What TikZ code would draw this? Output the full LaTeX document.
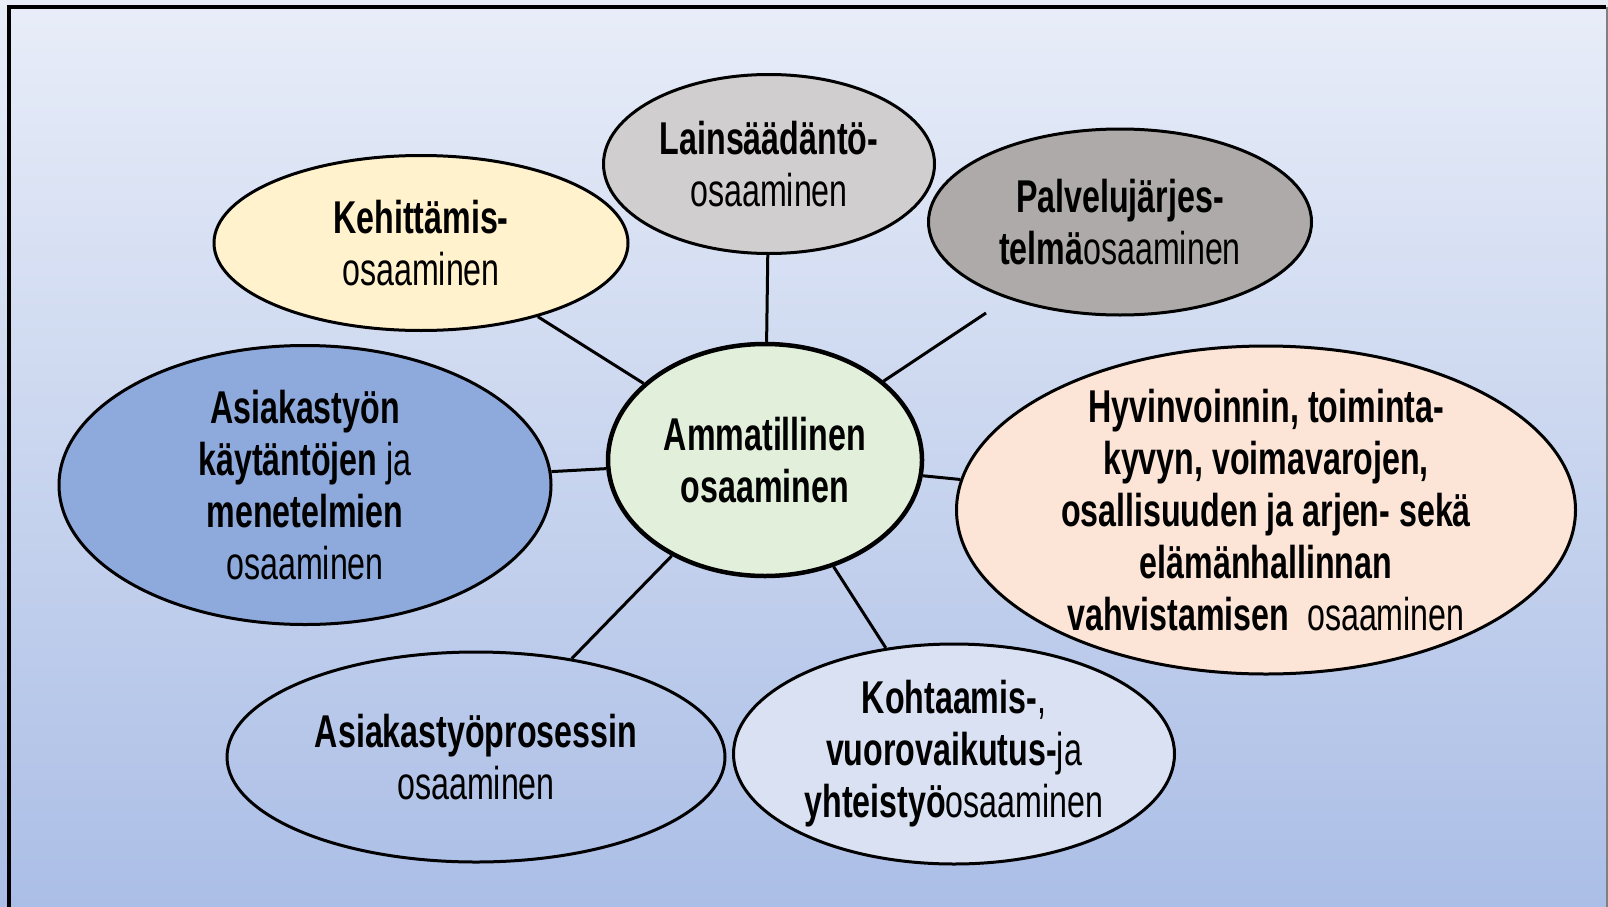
\documentclass[tikz,border=0pt]{standalone}
\usepackage{fontspec}
\setmainfont{Liberation Sans}[FakeStretch=0.7]
\usetikzlibrary{shapes.geometric}
\definecolor{taustaYla}{RGB}{232,237,248}
\definecolor{taustaAla}{RGB}{171,190,230}
\definecolor{lakiHarmaa}{RGB}{208,206,206}
\definecolor{kehKeltainen}{RGB}{255,242,204}
\definecolor{palvHarmaa}{RGB}{174,170,170}
\definecolor{asiakasSininen}{RGB}{142,169,219}
\definecolor{ammVihrea}{RGB}{226,239,218}
\definecolor{hyvPersikka}{RGB}{252,228,214}
\definecolor{kohtSininen}{RGB}{217,225,242}
\begin{document}
\begin{tikzpicture}[x=1pt, y=-1pt,
  osa/.style={ellipse, draw=black, line width=3pt, inner xsep=0pt, inner ysep=-12pt,
    align=center, text=black, font=\fontsize{46}{52}\selectfont},
  viiva/.style={line width=3pt}]
\useasboundingbox (0,0) rectangle (1608,907);
% Tausta ja kehys
\shade[top color=taustaYla, bottom color=taustaAla] (0,0) rectangle (1608,907);
\draw[line width=4pt] (9,907) -- (9,7) -- (1606,7);
\draw[gray, line width=1.5pt] (1607,7) -- (1607,907);
% Osaamisalueet
\node[osa, fill=lakiHarmaa, minimum width=331, minimum height=179] (laki) at (769,164)
  {\textbf{Lainsäädäntö-}\\osaaminen};
\node[osa, fill=kehKeltainen, minimum width=414, minimum height=175] (keh) at (421,243)
  {\textbf{Kehittämis-}\\osaaminen};
\node[osa, fill=palvHarmaa, minimum width=383, minimum height=186] (palv) at (1120,222)
  {\textbf{Palvelujärjes-}\\\textbf{telmä}osaaminen};
\node[osa, fill=asiakasSininen, minimum width=492, minimum height=279] (kaytannot) at (305,485)
  {\textbf{Asiakastyön}\\\textbf{käytäntöjen} ja\\\textbf{menetelmien}\\osaaminen};
\node[osa, fill=hyvPersikka, minimum width=619, minimum height=328] (hyv) at (1266,510)
  {\textbf{Hyvinvoinnin, toiminta-}\\\textbf{kyvyn, voimavarojen,}\\\textbf{osallisuuden ja arjen- sekä}\\\textbf{elämänhallinnan}\\\textbf{vahvistamisen}\ \ osaaminen};
\node[osa, minimum width=498, minimum height=210] (prosessi) at (476,757)
  {\textbf{Asiakastyöprosessin}\\osaaminen};
\node[osa, fill=kohtSininen, minimum width=441, minimum height=220] (kohtaaminen) at (954,754)
  {\textbf{Kohtaamis-},\\\textbf{vuorovaikutus-}ja\\\textbf{yhteistyö}osaaminen};
% Keskus
\node[osa, fill=ammVihrea, line width=4.5pt, minimum width=314, minimum height=232] (amm) at (765,460)
  {\textbf{Ammatillinen}\\\textbf{osaaminen}};
% Yhteydet
\coordinate (palvPaa) at (986,313);
\draw[viiva] (amm) -- (laki);
\draw[viiva] (amm) -- (keh);
\draw[viiva] (amm) -- (palvPaa);
\draw[viiva] (amm) -- (kaytannot);
\draw[viiva] (amm) -- (hyv);
\draw[viiva] (amm) -- (prosessi);
\draw[viiva] (amm) -- (kohtaaminen);
\end{tikzpicture}
\end{document}
